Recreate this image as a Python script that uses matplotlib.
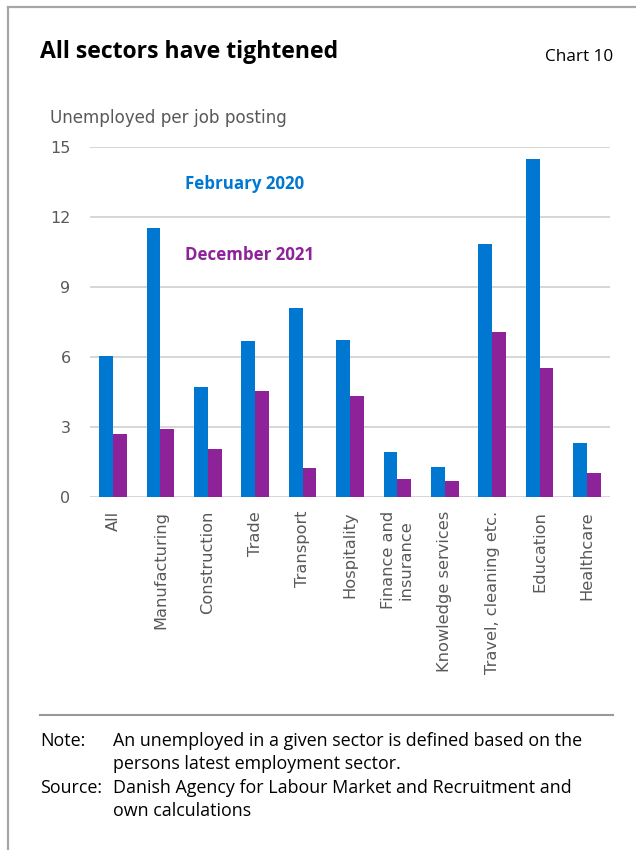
import matplotlib.pyplot as plt
from matplotlib.lines import Line2D
import numpy as np

# Data
sectors = ['All', 'Manufacturing', 'Construction', 'Trade', 'Transport',
           'Hospitality', 'Finance and\ninsurance', 'Knowledge services',
           'Travel, cleaning etc.', 'Education', 'Healthcare']
feb_2020 = [6.05, 11.52, 4.72, 6.70, 8.12, 6.75, 1.93, 1.28, 10.86, 14.50, 2.31]
dec_2021 = [2.72, 2.93, 2.07, 4.55, 1.25, 4.31, 0.77, 0.69, 7.08, 5.55, 1.03]
y_ticks = [0, 3, 6, 9, 12, 15]

blue = '#0078d2'
purple = '#8e2399'
grey_txt = '#595959'

plt.rcParams['font.family'] = ['Open Sans', 'DejaVu Sans']
axis_font = ['DejaVu Sans']

fig = plt.figure(figsize=(6.36, 8.5), dpi=100)
W, H = 636, 850

def fx(px):
    return px / W

def fy(py):
    return 1 - py / H

# frame (top and left only)
fig.add_artist(Line2D([fx(8), 1], [fy(7), fy(7)], color='#a6a6a6', lw=1.6))
fig.add_artist(Line2D([fx(8), fx(8)], [fy(7), 0], color='#a6a6a6', lw=1.6))

ax = fig.add_axes([fx(90), fy(497), fx(610) - fx(90), fy(147) - fy(497)])

x = np.arange(len(sectors))
w = 0.29
ax.bar(x - w / 2, feb_2020, width=w, color=blue, zorder=3)
ax.bar(x + w / 2, dec_2021, width=w, color=purple, zorder=3)

ax.set_xlim(-0.485, len(sectors) - 0.515)
ax.set_ylim(0, 15)
ax.set_yticks(y_ticks)
ax.yaxis.grid(True, color='#cccccc', lw=1.1, zorder=0)
ax.set_axisbelow(True)
for s in ax.spines.values():
    s.set_visible(False)
ax.tick_params(axis='y', length=0, pad=14, labelsize=11.5, labelcolor=grey_txt)
ax.tick_params(axis='x', length=0, pad=10)
for lab in ax.get_yticklabels():
    lab.set_family(axis_font)
ax.set_xticks(x)
ax.set_xticklabels(sectors, rotation=90, ha='center', va='top', family=axis_font,
                   fontsize=11.7, color=grey_txt, multialignment='center')

# in-plot series labels
ax.text(1.52, 13.4, 'February 2020', color=blue, fontsize=12.2,
        fontweight='bold', va='center', ha='left')
ax.text(1.52, 10.35, 'December 2021', color=purple, fontsize=12.2,
        fontweight='bold', va='center', ha='left')

# titles
fig.text(fx(40), fy(52), 'All sectors have tightened', fontsize=16.6,
         fontweight='bold', va='center', ha='left', color='black')
fig.text(fx(613), fy(57), 'Chart 10', fontsize=12.3, va='center', ha='right',
         color='black')
fig.text(fx(50), fy(118), 'Unemployed per job posting', fontsize=12.1,
         va='center', ha='left', color=grey_txt, family=axis_font)

# footer
fig.add_artist(Line2D([fx(40), fx(613)], [fy(715), fy(715)], color='#999999', lw=1.5))
note_kw = dict(fontsize=12.9, va='center', ha='left', color='black')
fig.text(fx(40), fy(741), 'Note:', **note_kw)
fig.text(fx(113), fy(741), 'An unemployed in a given sector is defined based on the', **note_kw)
fig.text(fx(113), fy(764), 'persons latest employment sector.', **note_kw)
fig.text(fx(40), fy(788), 'Source:', **note_kw)
fig.text(fx(113), fy(788), 'Danish Agency for Labour Market and Recruitment and', **note_kw)
fig.text(fx(113), fy(811), 'own calculations', **note_kw)

plt.savefig('out.png', dpi=100)
